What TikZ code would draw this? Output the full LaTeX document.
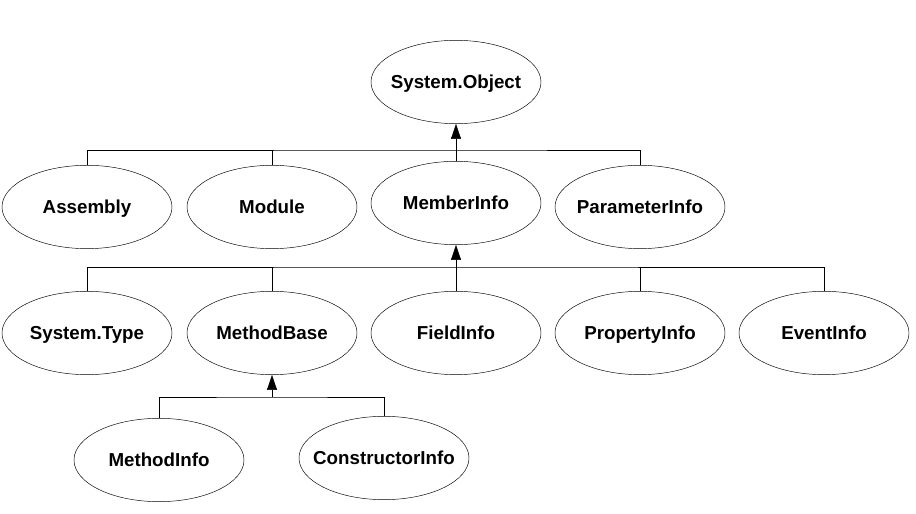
\documentclass[tikz,border=0pt]{standalone}
\usepackage{fontspec}
\setmainfont{Liberation Sans}
\usepackage{tikz}
\usetikzlibrary{shapes.geometric}
\usetikzlibrary{arrows.meta}
\tikzset{
    cls/.style={draw, ellipse, thin, minimum width=5.1cm, minimum height=2.5cm, inner xsep=-0.4cm, inner ysep=0pt, text height=11.5pt, text depth=0pt, font=\fontsize{16}{19}\selectfont\bfseries},
    inh/.style={-{Triangle[width=0.3cm, length=0.45cm]}, thin},
    bus/.style={thin}
}

\begin{document}
\begin{tikzpicture}[x=0.03cm, y=-0.03cm]
        \useasboundingbox (0,0) rectangle (916,514);
        \node[cls] (obj) at (456,82) {System.Object};

        \node[cls] (asm) at (87,207) {Assembly};
        \node[cls] (mod) at (272,207) {Module};
        \node[cls] (mem) at (456,203) {MemberInfo};
        \node[cls] (par) at (640,207) {ParameterInfo};

        \node[cls] (typ) at (87,333) {System.Type};
        \node[cls] (mb) at (272,333) {MethodBase};
        \node[cls] (fld) at (456,333) {FieldInfo};
        \node[cls] (prp) at (640,333) {PropertyInfo};
        \node[cls] (evt) at (824,333) {EventInfo};

        \node[cls] (mi) at (159,460) {MethodInfo};
        \node[cls] (ci) at (384,458) {ConstructorInfo};

        \coordinate (b1) at (456,150);
        \coordinate (b2) at (456,267);
        \coordinate (b3) at (272,397);

        % level 1
        \draw[inh] (mem.north) -- (obj.south);
        \draw[bus] (asm.north) |- (b1) -| (par.north);
        \draw[bus] (mod.north) -- (mod.north |- b1);
        % level 2
        \draw[inh] (fld.north) -- (mem.south);
        \draw[bus] (typ.north) |- (b2) -| (evt.north);
        \draw[bus] (mb.north) -- (mb.north |- b2);
        \draw[bus] (prp.north) -- (prp.north |- b2);
        % level 3
        \draw[inh] (b3) -- (mb.south);
        \draw[bus] (mi.north) |- (b3) -| (ci.north);
    \end{tikzpicture}
\end{document}
